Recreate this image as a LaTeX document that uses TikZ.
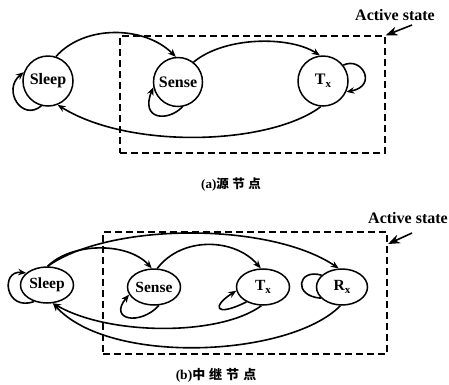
\documentclass[tikz,border=0pt]{standalone}
\usepackage{fontspec}
\setmainfont{Liberation Serif}
\newfontfamily\cjkfont{Noto Sans CJK SC}
\usetikzlibrary{arrows.meta,shapes.geometric}

\tikzset{
  stateC/.style={circle,draw,line width=1.5pt,minimum size=50pt,inner sep=0pt,
                 font=\fontsize{16}{18}\selectfont\bfseries},
  stateE/.style={ellipse,draw,line width=1.5pt,minimum width=53pt,minimum height=36pt,inner sep=0pt,
                 font=\fontsize{15.5}{18}\selectfont\bfseries},
  trans/.style={line width=1.6pt,-{Stealth[length=8pt,width=6.5pt]}},
  plain/.style={line width=1.6pt},
  activebox/.style={draw,line width=1.2pt,dash pattern=on 7pt off 4pt},
  lbl/.style={font=\fontsize{16}{18}\selectfont\bfseries,inner sep=0pt},
  caption/.style={inner sep=0pt},
}
\newcommand{\subx}[1]{#1\raisebox{-0.35ex}{\fontsize{11}{12}\selectfont x}}

\begin{document}
\begin{tikzpicture}[x=1pt,y=-1pt]
\useasboundingbox (0,0) rectangle (449,384);

% ---------- (a) source node ----------
\node[activebox,minimum width=265pt,minimum height=117pt,inner sep=0pt] (boxA) at (252.5,94.5) {};
\node[stateC] (a1) at (48,81) {Sleep};
\node[stateC,minimum size=49pt] (a2) at (178,82) {Sense};
\node[stateC] (a3) at (323,81) {\subx{T}};

\draw[trans] (a1.72) .. controls (85,24) and (145,26) .. (a2.95);
\draw[trans] (a2.52) .. controls (225,36) and (290,36) .. (a3.97);
\draw[trans] (a3.265) .. controls (270,145) and (130,150) .. (a1.-68);
\draw[trans] (a1.255) .. controls (22,122) and (2,90) .. (a1.160);
\draw[trans] (a2.-80) .. controls (168,122) and (140,120) .. (a2.192);
\draw[trans] (a3.38) .. controls (362,56) and (378,86) .. (a3.-25);

\node[lbl] (actA) at (395,15) {Active state};
\coordinate (actAfrom) at (412,25);
\draw[trans,-{Stealth[length=12pt,width=9pt]}] (actAfrom) -- (boxA.north east);

\node[caption] (capA) at (231,185) {\fontsize{13}{14}\selectfont\bfseries (a)\cjkfont\bfseries\fontsize{12.5}{14}\selectfont 源\hspace{3.5pt}节\hspace{3.5pt}点};

% ---------- (b) relay node ----------
\node[activebox,minimum width=284pt,minimum height=122pt,inner sep=0pt] (boxB) at (245,293) {};
\node[stateE] (b1) at (47,285) {Sleep};
\node[stateE] (b2) at (154,287) {Sense};
\node[stateE] (b3) at (263,287) {\subx{T}};
\node[stateE,minimum width=51pt] (b4) at (342,287) {\subx{R}};

\coordinate (bs) at (b1.88);
\coordinate (be) at (b1.-72);
\draw[trans] (bs) .. controls (72,242) and (128,242) .. (b2.97);
\draw[trans] (bs) .. controls (110,222) and (270,222) .. (b4.100);
\draw[trans] (b2.80) .. controls (182,236) and (235,238) .. (b3.97);
\draw[trans] (b3.-95) .. controls (220,336) and (110,336) .. (be);
\draw[trans] (b4.-95) .. controls (290,357) and (110,366) .. (be);
\draw[trans] (b1.232) .. controls (5,312) and (0,270) .. (b1.150);
\draw[trans] (b2.-75) .. controls (140,326) and (108,320) .. (b2.197);
\draw[trans] (b3.222) .. controls (214,318) and (212,306) .. (b3.188);
\draw[plain] (b4.150) .. controls (298,268) and (292,296) .. (b4.208);

\node[lbl] (actB) at (408,218) {Active state};
\coordinate (actBfrom) at (412,233);
\draw[trans,-{Stealth[length=12pt,width=9pt]}] (actBfrom) -- (388,244);

\node[caption] (capB) at (216,375) {\fontsize{13.5}{15}\selectfont\bfseries (b)\cjkfont\bfseries\fontsize{13}{15}\selectfont 中\hspace{4pt}继\hspace{4pt}节\hspace{4pt}点};
\end{tikzpicture}
\end{document}
